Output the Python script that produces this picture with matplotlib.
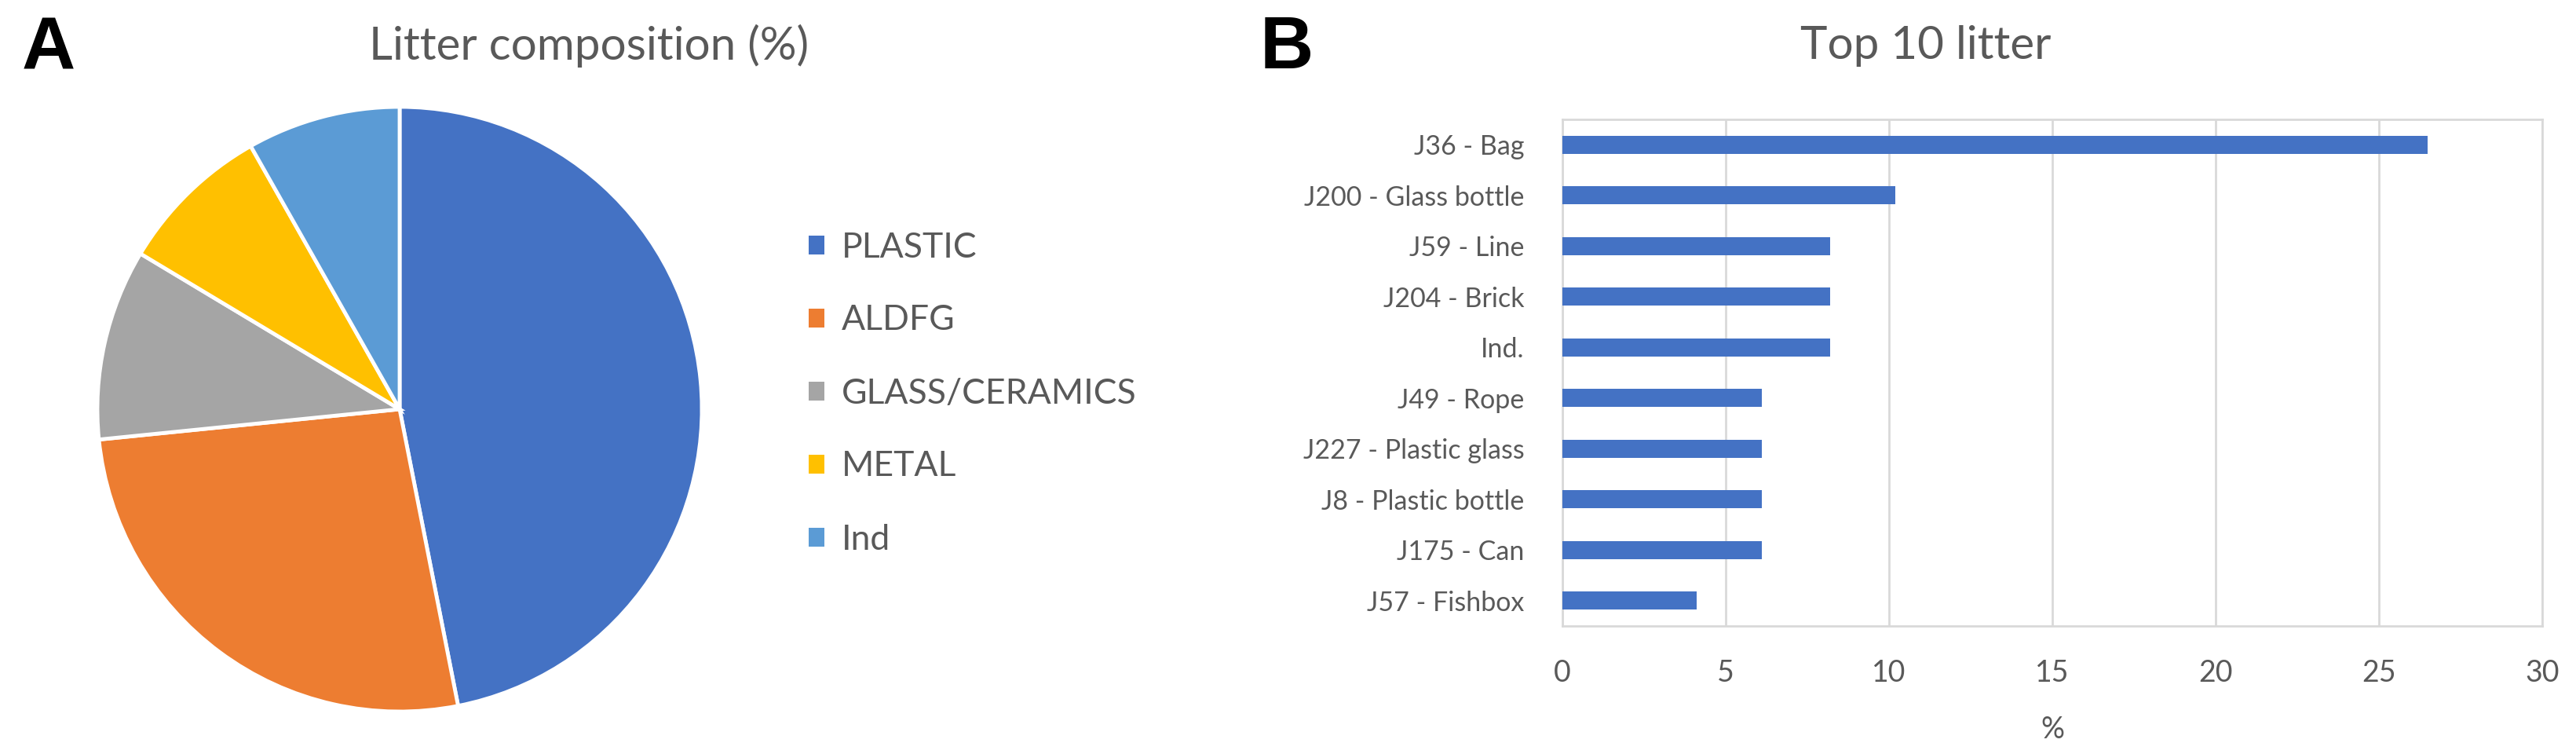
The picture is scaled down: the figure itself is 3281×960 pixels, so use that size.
import matplotlib
matplotlib.use("Agg")
import matplotlib.pyplot as plt
from matplotlib.patches import Patch

plt.rcParams['font.family'] = ['Lato', 'DejaVu Sans']

# ---- data ----
pie_labels = ["PLASTIC", "ALDFG", "GLASS/CERAMICS", "METAL", "Ind"]
pie_values = [46.9, 26.5, 10.2, 8.2, 8.2]
pie_colors = ["#4472C4", "#ED7D31", "#A5A5A5", "#FFC000", "#5B9BD5"]

bar_labels = ["J36 - Bag", "J200 - Glass bottle", "J59 - Line", "J204 - Brick", "Ind.",
              "J49 - Rope", "J227 - Plastic glass", "J8 - Plastic bottle", "J175 - Can",
              "J57 - Fishbox"]
bar_values = [26.5, 10.2, 8.2, 8.2, 8.2, 6.1, 6.1, 6.1, 6.1, 4.1]
x_ticks = [0, 5, 10, 15, 20, 25, 30]

W, H = 3281, 960
fig = plt.figure(figsize=(W / 100, H / 100), dpi=100)
TXT = "#595959"

def fx(px):
    return px / W

def fy(py):
    return 1 - py / H

# ---- Pie (A) ----
cx, cy, r = 509, 521, 385
axp = fig.add_axes([fx(cx - r), fy(cy + r), (2 * r) / W, (2 * r) / H])
wedges, _ = axp.pie(pie_values, colors=pie_colors, startangle=90, counterclock=False,
                    wedgeprops=dict(edgecolor="white", linewidth=3.5), radius=1.0)
axp.set_aspect("equal")
axp.set_xlim(-1.0, 1.0)
axp.set_ylim(-1.0, 1.0)
axp.axis("off")

handles = [Patch(facecolor=c, edgecolor="none") for c in pie_colors]
fig.legend(handles, pie_labels, loc="center left", bbox_to_anchor=(fx(1030), fy(501)),
           frameon=False, fontsize=32, labelcolor=TXT, handlelength=0.45,
           handleheight=0.45, handletextpad=0.5, labelspacing=1.17,
           borderpad=0, borderaxespad=0)

fig.text(fx(750), fy(76), "Litter composition (%)", ha="center", va="baseline",
         fontsize=42, color=TXT)
fig.text(fx(28), fy(88), "A", ha="left", va="baseline", fontsize=68,
         fontweight="bold", color="black", family=["Liberation Sans", "DejaVu Sans"])

# ---- Bar chart (B) ----
left, right, top, bottom = 1990, 3238, 152, 797
axb = fig.add_axes([fx(left), fy(bottom), (right - left) / W, (bottom - top) / H])
ypos = list(range(len(bar_labels)))
axb.barh(ypos, bar_values, height=0.35, color="#4472C4", zorder=3)
axb.set_yticks(ypos)
axb.set_yticklabels(bar_labels)
axb.set_ylim(len(bar_labels) - 0.5, -0.5)
axb.set_xlim(0, 30)
axb.set_xticks(x_ticks)
axb.set_xticklabels([str(t) for t in x_ticks])
axb.grid(axis="x", color="#D9D9D9", linewidth=2, zorder=0)
for s in axb.spines.values():
    s.set_color("#D9D9D9")
    s.set_linewidth(2)
axb.tick_params(axis="both", length=0, colors=TXT)
axb.tick_params(axis="y", labelsize=24.5, pad=35)
axb.tick_params(axis="x", labelsize=27, pad=30)
axb.set_xlabel("%", fontsize=27, color=TXT, labelpad=26)

fig.text(fx(2453), fy(75), "Top 10 litter", ha="center", va="baseline",
         fontsize=42, color=TXT)
fig.text(fx(1605), fy(87), "B", ha="left", va="baseline", fontsize=68,
         fontweight="bold", color="black", family=["Liberation Sans", "DejaVu Sans"])

fig.savefig("out.png", dpi=100, facecolor="white")
